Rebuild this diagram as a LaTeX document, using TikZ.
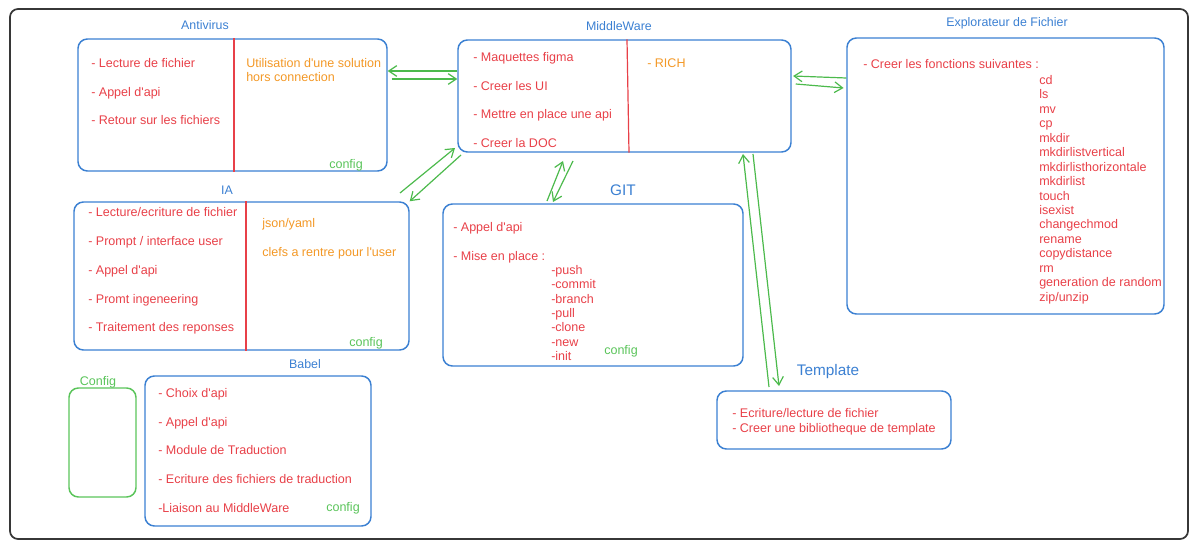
\documentclass[tikz,border=0pt]{standalone}
\usepackage{fontspec}
\setmainfont{Liberation Sans}
\usetikzlibrary{arrows.meta,fit}
\definecolor{bblue}{RGB}{59,128,210}
\definecolor{rred}{RGB}{232,64,72}
\definecolor{oorange}{RGB}{243,152,38}
\definecolor{cgreen}{RGB}{90,196,90}
\definecolor{agreen}{RGB}{76,186,76}
\definecolor{frameclr}{RGB}{55,55,55}
\newcommand{\ap}{\textquotesingle}
\begin{document}
\begin{tikzpicture}[x=0.75pt,y=-0.75pt,
  box/.style={draw=bblue, line width=1.1pt, rounded corners=7pt, inner sep=0pt},
  cfgbox/.style={draw=cgreen, line width=1.1pt, rounded corners=7pt, inner sep=0pt},
  ttl/.style={text=bblue, font=\fontsize{9.3}{10}\selectfont, inner sep=0pt},
  bigttl/.style={text=bblue, font=\fontsize{11.5}{13}\selectfont, inner sep=0pt},
  txt/.style={font=\fontsize{9.4}{10}\selectfont, anchor=west, inner sep=0pt, text height=7.6pt, text depth=1.2pt},
  item/.style={txt, text=rred},
  note/.style={txt, text=oorange},
  cfg/.style={text=cgreen, font=\fontsize{9.4}{10}\selectfont, inner sep=0pt},
  divider/.style={draw=rred, line width=0.9pt},
  link/.style={draw=agreen, line width=0.9pt, -{Straight Barb[length=6pt,width=8pt]}}
]
\useasboundingbox (0,0) rectangle (1200,549);
\draw[frameclr, line width=1.3pt, rounded corners=6pt] (10,9) rectangle (1188,539);

% ---------- Antivirus ----------
\node[box, fit={(78,39) (387,171)}] (av) {};
\node[ttl] (avt) at (205,25) {Antivirus};
\draw[divider] (av.north -| 234,0) -- (av.south -| 234,0);
\node[item] (av1) at (91,63) {- Lecture de fichier};
\node[item] (av2) at (91,92) {- Appel d\ap api};
\node[item] (av3) at (91,120) {- Retour sur les fichiers};
\node[note] (avn1) at (246,63) {Utilisation d\ap une solution};
\node[note] (avn2) at (246,77) {hors connection};
\node[cfg] (avc) at (346,165) {config};

% ---------- MiddleWare ----------
\node[box, fit={(458,40) (791,152)}] (mw) {};
\node[ttl] (mwt) at (619,26) {MiddleWare};
\draw[divider] (mw.north -| 627,0) -- (mw.south -| 629,0);
\node[item] (mw1) at (473,57) {- Maquettes figma};
\node[item] (mw2) at (473,86) {- Creer les UI};
\node[item] (mw3) at (473,114) {- Mettre en place une api};
\node[item] (mw4) at (473,143) {- Creer la DOC};
\node[note] (mwn) at (647,63) {- RICH};

% ---------- Explorateur ----------
\node[box, fit={(847,38) (1164,314)}] (ex) {};
\node[ttl] (ext) at (1007,23) {Explorateur de Fichier};
\node[item] (ex0) at (863,64) {- Creer les fonctions suivantes :};
\foreach \t [count=\i from 0] in {cd,ls,mv,cp,mkdir,mkdirlistvertical,mkdirlisthorizontale,mkdirlist,touch,isexist,changechmod,rename,copydistance,rm,generation de random,zip/unzip}
  \node[item] (exl\i) at (1039,{80+14.47*\i}) {\t};

% ---------- IA ----------
\node[box, fit={(74,202) (409,350)}] (ia) {};
\node[ttl] (iat) at (227,190) {IA};
\draw[divider] (ia.north -| 246,0) -- (ia.south -| 246,0);
\node[item] (ia1) at (88,212) {- Lecture/ecriture de fichier};
\node[item] (ia2) at (88,241) {- Prompt / interface user};
\node[item] (ia3) at (88,270) {- Appel d\ap api};
\node[item] (ia4) at (88,299) {- Promt ingeneering};
\node[item] (ia5) at (88,327) {- Traitement des reponses};
\node[note] (ian1) at (262,223) {json/yaml};
\node[note] (ian2) at (262,252) {clefs a rentre pour l\ap user};
\node[cfg] (iac) at (366,343) {config};

% ---------- GIT ----------
\node[box, fit={(443,204) (743,366)}] (git) {};
\node[bigttl] (gitt) at (623,190) {GIT};
\node[item] (git1) at (453,227) {- Appel d\ap api};
\node[item] (git2) at (453,256) {- Mise en place :};
\foreach \t [count=\i from 0] in {-push,-commit,-branch,-pull,-clone,-new,-init}
  \node[item] (gitl\i) at (551,{270+14.4*\i}) {\t};
\node[cfg] (gitc) at (621,351) {config};

% ---------- Babel ----------
\node[box, fit={(145,376) (371,526)}] (bb) {};
\node[ttl] (bbt) at (305,364) {Babel};
\node[item] (bb1) at (158,393) {- Choix d\ap api};
\node[item] (bb2) at (158,422) {- Appel d\ap api};
\node[item] (bb3) at (158,450) {- Module de Traduction};
\node[item] (bb4) at (158,479) {- Ecriture des fichiers de traduction};
\node[item] (bb5) at (158,508) {-Liaison au MiddleWare};
\node[cfg] (bbc) at (343,508) {config};

% ---------- Config ----------
\node[cfgbox, fit={(69,388) (136,497)}] (cf) {};
\node[cfg] (cft) at (98,382) {Config};

% ---------- Template ----------
\node[box, fit={(717,391) (951,449)}] (tp) {};
\node[bigttl] (tpt) at (828,372) {Template};
\node[item] (tp1) at (732,413) {- Ecriture/lecture de fichier};
\node[item] (tp2) at (732,428) {- Creer une bibliotheque de template};

% ---------- connectors ----------
\draw[link] (mw.west |- 0,71) -- (av.east |- 0,71);
\draw[link] ([xshift=3]av.east |- 0,79) -- (mw.west |- 0,79);
\draw[link] (ex.west |- 0,78) -- ([xshift=1]mw.east |- 0,76);
\draw[link] ([xshift=3]mw.east |- 0,84) -- ([xshift=-2]ex.west |- 0,88);

\coordinate (iaA) at (400,193);
\coordinate (mwA) at (455,148);
\coordinate (mwB) at (461,155);
\draw[link] (iaA) -- (mwA);
\draw[link] (mwB) -- (ia.north east);

\coordinate (gitA) at (547,201);
\coordinate (mwC) at (563,161);
\coordinate (mwD) at (573,161);
\coordinate (gitB) at (553,202);
\draw[link] (gitA) -- (mwC);
\draw[link] (mwD) -- (gitB);

\coordinate (tpA) at (769,387);
\coordinate (mwE) at (743,154);
\coordinate (mwF) at (753,154);
\coordinate (tpB) at (779,386);
\draw[link] (tpA) -- (mwE);
\draw[link] (mwF) -- (tpB);
\end{tikzpicture}
\end{document}
